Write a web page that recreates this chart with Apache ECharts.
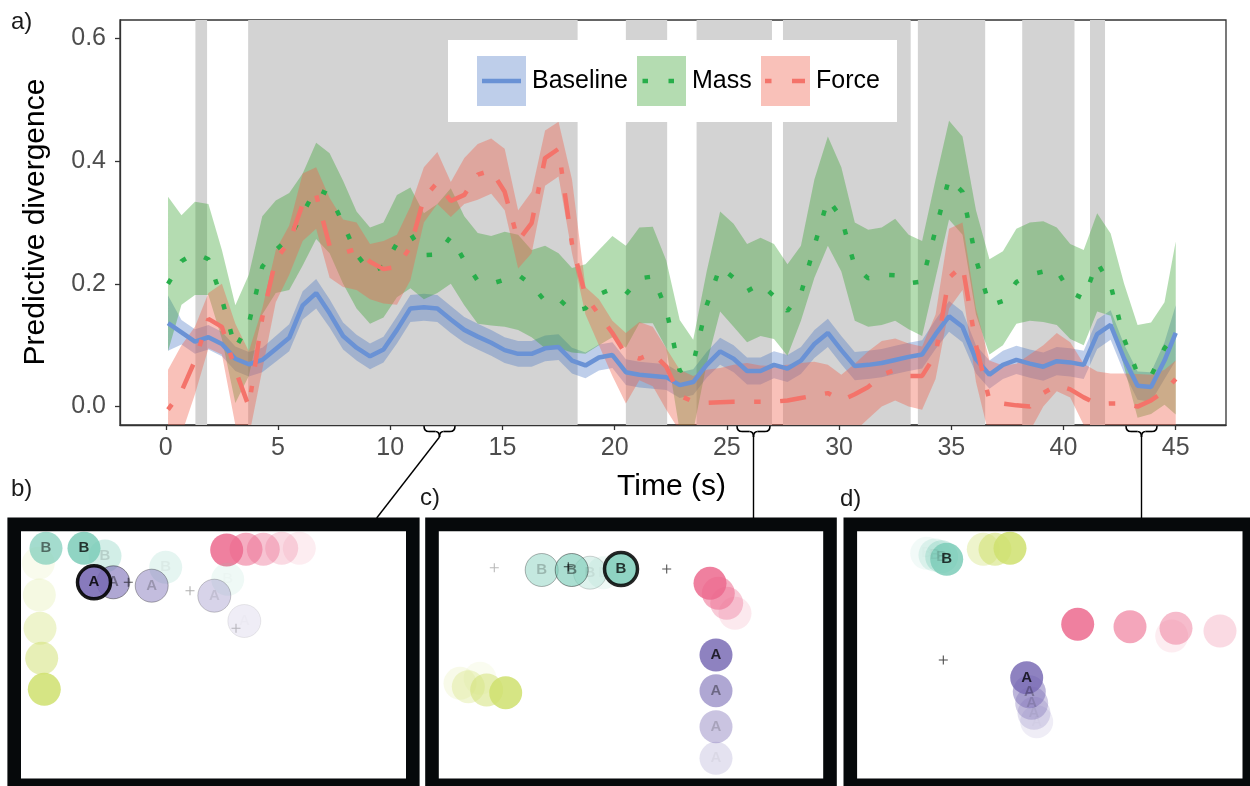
<!DOCTYPE html>
<html>
<head>
<meta charset="utf-8">
<script src="https://cdn.jsdelivr.net/npm/echarts@6/dist/echarts.min.js"></script>
<style>html,body{margin:0;padding:0;background:#fff}#chart{width:1250px;height:786px}</style>
</head>
<body>
<div id="chart"></div>
<script>
// time of each sample (s)
var TIME = [0.1,0.7,1.3,1.9,2.5,3.1,3.7,4.3,4.9,5.5,
	6.1,6.7,7.3,7.9,8.5,9.1,9.7,10.3,10.9,11.5,
	12.1,12.7,13.3,13.9,14.5,15.1,15.7,16.3,16.9,17.5,
	18.1,18.7,19.3,19.9,20.5,21.1,21.7,22.3,22.9,23.5,
	24.1,24.7,25.3,25.9,26.5,27.1,27.7,28.3,28.9,29.5,
	30.1,30.7,31.3,31.9,32.5,33.1,33.7,34.3,34.9,35.5,
	36.1,36.7,37.3,37.9,38.5,39.1,39.7,40.3,40.9,41.5,
	42.1,42.7,43.3,43.9,44.5,45.0];

//Baseline
var BASE = [0.136,0.121,0.106,0.113,0.102,0.078,0.069,0.076,0.094,0.112,
	0.165,0.185,0.152,0.115,0.096,0.082,0.093,0.125,0.160,0.162,
	0.160,0.142,0.125,0.114,0.104,0.092,0.086,0.086,0.095,0.097,
	0.075,0.067,0.080,0.084,0.056,0.052,0.050,0.048,0.035,0.040,
	0.068,0.090,0.078,0.058,0.058,0.068,0.062,0.075,0.102,0.120,
	0.092,0.066,0.068,0.071,0.076,0.081,0.085,0.118,0.147,0.130,
	0.077,0.052,0.068,0.076,0.070,0.065,0.074,0.072,0.068,0.118,
	0.133,0.078,0.034,0.032,0.075,0.120];
var BASE_HI = [0.181,0.141,0.126,0.133,0.122,0.098,0.089,0.096,0.115,0.134,
	0.188,0.208,0.175,0.137,0.117,0.103,0.114,0.147,0.182,0.184,
	0.182,0.164,0.146,0.135,0.125,0.113,0.107,0.107,0.116,0.118,
	0.096,0.088,0.101,0.105,0.077,0.073,0.071,0.069,0.056,0.061,
	0.089,0.112,0.100,0.080,0.080,0.090,0.084,0.097,0.125,0.143,
	0.115,0.089,0.091,0.094,0.099,0.104,0.108,0.142,0.172,0.155,
	0.100,0.075,0.091,0.099,0.093,0.088,0.097,0.095,0.091,0.142,
	0.157,0.101,0.057,0.056,0.105,0.165];
var BASE_LO = [0.091,0.101,0.086,0.093,0.082,0.058,0.049,0.056,0.073,0.090,
	0.142,0.160,0.129,0.093,0.075,0.061,0.072,0.103,0.138,0.140,
	0.138,0.120,0.104,0.093,0.083,0.071,0.065,0.065,0.074,0.076,
	0.054,0.046,0.059,0.063,0.035,0.031,0.029,0.027,0.014,0.019,
	0.047,0.068,0.056,0.036,0.036,0.046,0.040,0.053,0.079,0.097,
	0.069,0.043,0.045,0.048,0.053,0.058,0.062,0.094,0.122,0.105,
	0.054,0.029,0.045,0.053,0.047,0.042,0.051,0.049,0.045,0.094,
	0.109,0.055,0.011,0.008,0.045,0.075];

//Mass
var MASS = [0.200,0.237,0.250,0.240,0.175,0.095,0.135,0.228,0.255,0.275,
	0.315,0.355,0.345,0.298,0.248,0.220,0.228,0.266,0.282,0.247,
	0.248,0.277,0.238,0.205,0.200,0.207,0.215,0.198,0.172,0.176,
	0.155,0.160,0.183,0.192,0.183,0.209,0.212,0.158,0.058,0.070,
	0.165,0.228,0.210,0.188,0.200,0.180,0.156,0.184,0.262,0.338,
	0.308,0.228,0.209,0.215,0.214,0.201,0.204,0.288,0.372,0.350,
	0.240,0.165,0.172,0.203,0.215,0.220,0.222,0.186,0.176,0.235,
	0.198,0.110,0.054,0.050,0.095,0.120];
var MASS_HI = [0.342,0.312,0.334,0.330,0.255,0.165,0.215,0.310,0.336,0.348,
	0.380,0.430,0.413,0.368,0.318,0.292,0.300,0.345,0.357,0.315,
	0.330,0.356,0.310,0.283,0.278,0.285,0.280,0.255,0.262,0.250,
	0.226,0.232,0.255,0.278,0.262,0.292,0.293,0.238,0.141,0.109,
	0.220,0.318,0.298,0.265,0.275,0.265,0.232,0.262,0.370,0.440,
	0.390,0.300,0.288,0.292,0.306,0.280,0.270,0.370,0.466,0.440,
	0.320,0.240,0.253,0.290,0.300,0.302,0.292,0.265,0.255,0.315,
	0.282,0.200,0.133,0.137,0.170,0.269];
var MASS_LO = [0.090,0.166,0.182,0.182,0.110,0.006,0.050,0.150,0.185,0.190,
	0.230,0.273,0.250,0.200,0.160,0.135,0.145,0.178,0.193,0.175,
	0.185,0.200,0.165,0.135,0.132,0.130,0.125,0.113,0.095,0.095,
	0.088,0.086,0.100,0.113,0.096,0.136,0.136,0.095,-0.040,-0.040,
	0.070,0.155,0.130,0.105,0.115,0.110,0.083,0.140,0.210,0.262,
	0.220,0.140,0.130,0.133,0.140,0.126,0.115,0.210,0.305,0.280,
	0.150,0.085,0.100,0.135,0.140,0.138,0.133,0.110,0.100,0.155,
	0.148,0.065,-0.018,-0.012,0.003,-0.013];

//Force
var FORCE = [-0.005,0.025,0.075,0.143,0.130,0.060,0.000,0.145,0.240,0.268,
	0.330,0.345,0.262,0.250,0.257,0.236,0.224,0.228,0.260,0.340,
	0.365,0.335,0.345,0.378,0.385,0.350,0.270,0.299,0.405,0.420,
	0.265,0.180,0.150,0.120,0.085,0.078,0.087,0.065,0.018,0.008,
	0.006,0.007,0.008,0.008,0.008,0.008,0.010,0.014,0.018,0.022,
	0.010,0.020,0.032,0.052,0.060,0.050,0.050,0.085,0.210,0.230,
	0.100,0.010,0.005,0.002,0.000,0.022,0.035,0.028,0.015,0.004,
	0.005,0.005,0.000,0.010,0.025,0.045];
var FORCE_HI = [0.060,0.100,0.130,0.185,0.200,0.135,0.090,0.160,0.255,0.295,
	0.380,0.390,0.340,0.305,0.300,0.265,0.270,0.280,0.326,0.390,
	0.415,0.366,0.405,0.428,0.437,0.420,0.320,0.350,0.450,0.464,
	0.370,0.195,0.175,0.140,0.120,0.138,0.130,0.095,0.060,0.050,
	0.060,0.063,0.068,0.071,0.067,0.066,0.068,0.071,0.073,0.068,
	0.052,0.070,0.090,0.107,0.111,0.103,0.098,0.150,0.290,0.300,
	0.160,0.075,0.067,0.070,0.085,0.100,0.120,0.105,0.070,0.057,
	0.054,0.054,0.053,0.052,0.060,0.075];
var FORCE_LO = [-0.060,-0.045,0.020,0.095,0.085,-0.030,-0.050,0.060,0.170,0.215,
	0.270,0.290,0.210,0.195,0.190,0.175,0.168,0.166,0.206,0.300,
	0.330,0.309,0.330,0.337,0.347,0.320,0.225,0.250,0.360,0.375,
	0.250,0.150,0.100,0.050,0.005,0.043,0.033,-0.005,-0.040,-0.050,
	-0.050,-0.050,-0.050,-0.050,-0.050,-0.050,-0.050,-0.050,-0.040,-0.040,
	-0.050,-0.040,-0.020,0.000,0.010,0.000,-0.005,0.045,0.160,0.190,
	0.040,-0.050,-0.050,-0.050,-0.040,0.000,0.025,0.015,-0.030,-0.050,
	-0.050,-0.050,-0.050,-0.050,-0.040,-0.030];

// shaded time windows (s)
var BANDS = [[1.32,1.84],[3.67,18.35],[20.50,22.34],[23.65,27.01],[27.50,33.19],[33.51,36.51],[38.16,40.49],[41.18,41.85]];

var X_TICKS = [0,5,10,15,20,25,30,35,40,45];
var Y_TICKS = [0,0.2,0.4,0.6];

// snapshot panels: [x, y, opacity, kind, ring]   (ring: 0 none, 1 thin, 2 selected)
var PANEL_B = [
	[17.3,32.3,0.12,'lime',0],[18.3,64,0.2,'lime',0],[19,97.3,0.35,'lime',0],[20.7,127.3,0.5,'lime',0],[23.3,158.3,0.85,'lime',0],
	[278.3,17.3,0.12,'pink',0],[260.7,17.3,0.25,'pink',0],[242.3,18.3,0.4,'pink',0],[225,18.3,0.55,'pink',0],[205.7,19,0.85,'pink',0],
	[206.7,48.3,0.12,'teal',0],[144.7,36.3,0.2,'teal',0],[84,25,0.35,'teal',0],[25,17.3,0.7,'teal',0],[63,17.3,0.85,'teal',0],
	[223.3,90,0.12,'purple',1],[193.3,64.7,0.3,'purple',1],[130.7,54.7,0.45,'purple',1],[92.3,51.3,0.6,'purple',1],[73,51.3,0.9,'purple',2]
];
var PLUS_B = [[107.3,51.3,0.8],[169,59.7,0.4],[215,97.3,0.3]];

var PANEL_C = [
	[41,147.3,0.1,'lime',0],[21,152.3,0.15,'lime',0],[29.3,155.7,0.3,'lime',0],[47.7,159,0.5,'lime',0],[66.7,161.7,0.85,'lime',0],
	[296,82.3,0.15,'pink',0],[287.7,72.3,0.35,'pink',0],[279.3,62.3,0.55,'pink',0],[271,52.3,0.85,'pink',0],
	[164.3,41.7,0.12,'teal',0],[151,41.7,0.25,'teal',1],[102.7,39,0.45,'teal',1],[132.7,39,0.65,'teal',1],[182,38,0.85,'teal',2],
	[277,227.3,0.2,'purple',0],[277,195.7,0.4,'purple',0],[277,159.7,0.6,'purple',0],[277,124,0.85,'purple',0]
];
var PLUS_C = [[55.3,36.7,0.35],[129.3,35.7,0.9],[227.7,38,0.85]];

var PANEL_D = [
	[126,18.3,0.35,'lime',0],[137.7,18.3,0.55,'lime',0],[152.7,17.3,0.85,'lime',0],
	[314.4,105,0.12,'pink',0],[362.7,100,0.25,'pink',0],[318.7,97.3,0.45,'pink',0],[272.7,95.7,0.6,'pink',0],[220.4,93.3,0.85,'pink',0],
	[69.4,22.3,0.1,'teal',0],[77.7,24,0.2,'teal',0],[84.4,25.7,0.35,'teal',0],[89.4,28.3,0.85,'teal',0],
	[179.4,190.7,0.12,'purple',0],[176.7,182.3,0.22,'purple',0],[174.4,172.3,0.35,'purple',0],[172,160.7,0.5,'purple',0],[169.4,146.7,0.85,'purple',0]
];
var PLUS_D = [[86,129,0.9]];

var FONT = '"Liberation Sans", Arial, Helvetica, sans-serif';
var X_MIN = -2.04, X_MAX = 47.24, Y_MIN = -0.03, Y_MAX = 0.63;

var KIND_COLOR = { lime:'#cfe06e', teal:'#7dcdb9', purple:'#7a6cb5', pink:'#ec6a8e' };
var KIND_LABEL = { teal:'B', purple:'A' };

var BLUE = '#6a92d5', GREEN = '#27ae4a', RED = '#f4736a';
var BLUE_FILL = 'rgba(68,114,196,0.35)', GREEN_FILL = 'rgba(51,160,44,0.37)', RED_FILL = 'rgba(240,100,80,0.4)';

function pairs( vals )
{
	return TIME.map( function( t, i ){ return [ t, vals[i] ]; } );
}

//ribbon polygon from lo/hi arrays
function ribbon( name, lo, hi, fill )
{
	return {
		name: name,
		type: 'custom',
		xAxisIndex: 0, yAxisIndex: 0,
		clip: true,
		z: 2,
		silent: true,
		data: [0],
		renderItem: function( params, api ){
			var pts = [];
			for( var i = 0; i < TIME.length; i++ ) pts.push( api.coord( [ TIME[i], hi[i] ] ) );
			for( var j = TIME.length - 1; j >= 0; j-- ) pts.push( api.coord( [ TIME[j], lo[j] ] ) );
			return { type: 'polygon', shape: { points: pts }, style: { fill: fill } };
		}
	};
}

function circles( list )
{
	return list.map( function( c ){
		var ring = c[4], lab = KIND_LABEL[ c[3] ];
		var a = Math.min( 1, c[2] * 1.05 );
		return {
			value: [ c[0], c[1] ],
			itemStyle: {
				color: KIND_COLOR[ c[3] ],
				opacity: c[2],
				borderColor: ring == 2 ? '#000' : 'rgba(20,20,20,0.7)',
				borderWidth: ring == 2 ? 3.5 : ( ring == 1 ? 1 : 0 )
			},
			label: {
				show: !!lab,
				formatter: lab || '',
				position: 'inside',
				color: 'rgba(0,0,0,' + a + ')',
				fontFamily: FONT,
				fontWeight: 'bold',
				fontSize: 15
			}
		};
	});
}

function plusMarks( list )
{
	return list.map( function( p ){
		return { value: [ p[0], p[1] ], itemStyle: { color: 'rgba(0,0,0,' + p[2] + ')' } };
	});
}

var PLUS_PATH = 'path://M4.4,0h1.2v4.4h4.4v1.2h-4.4v4.4h-1.2v-4.4h-4.4v-1.2h4.4z';

//curly brace under the time axis, built from curves and lines
function brace( x0, x1 )
{
	var xm = ( x0 + x1 ) / 2, y0 = 426, y1 = 431.5, y2 = 437;
	var st = { fill: 'none', stroke: '#000', lineWidth: 1.6 };
	return {
		type: 'group',
		z: 120,
		children: [
			{ type: 'bezierCurve', shape: { x1: x0, y1: y0, x2: x0 + 5, y2: y1, cpx1: x0, cpy1: y1 }, style: st },
			{ type: 'line', shape: { x1: x0 + 5, y1: y1, x2: xm - 4, y2: y1 }, style: st },
			{ type: 'bezierCurve', shape: { x1: xm - 4, y1: y1, x2: xm, y2: y2, cpx1: xm, cpy1: y1 }, style: st },
			{ type: 'bezierCurve', shape: { x1: xm, y1: y2, x2: xm + 4, y2: y1, cpx1: xm, cpy1: y1 }, style: st },
			{ type: 'line', shape: { x1: xm + 4, y1: y1, x2: x1 - 5, y2: y1 }, style: st },
			{ type: 'bezierCurve', shape: { x1: x1 - 5, y1: y1, x2: x1, y2: y0, cpx1: x1, cpy1: y1 }, style: st }
		]
	};
}

function seg( x1, y1, x2, y2, color, w, dash )
{
	return { type: 'line', z: 120, shape: { x1: x1, y1: y1, x2: x2, y2: y2 },
		style: { stroke: color, lineWidth: w, lineDash: dash || null, lineCap: 'butt' } };
}

function txt( x, y, s, size, color, align, rot )
{
	return { type: 'text', z: 120, x: x, y: y, rotation: rot || 0,
		style: { text: s, fill: color, font: size + 'px ' + FONT, align: align || 'left', verticalAlign: 'middle' } };
}

function frame( x, w )
{
	return { type: 'rect', z: 50, shape: { x: x, y: 524.4, width: w, height: 261 },
		style: { fill: 'none', stroke: '#06090b', lineWidth: 13.6 } };
}

var graphics = [
	// legend
	{ type: 'rect', z: 100, shape: { x: 448, y: 40, width: 449, height: 82 }, style: { fill: '#fff' } },
	{ type: 'rect', z: 101, shape: { x: 477, y: 56, width: 49, height: 50 }, style: { fill: BLUE_FILL } },
	{ type: 'rect', z: 101, shape: { x: 637, y: 56, width: 49, height: 50 }, style: { fill: GREEN_FILL } },
	{ type: 'rect', z: 101, shape: { x: 761, y: 56, width: 49, height: 50 }, style: { fill: RED_FILL } },
	seg( 482, 81, 521, 81, BLUE, 4.5 ),
	seg( 642.5, 81, 681, 81, GREEN, 4.5, [ 5.5, 20.5 ] ),
	seg( 765, 81, 805, 81, RED, 4.5, [ 6.5, 20.5, 26, 19.5 ] ),
	txt( 532, 81, 'Baseline', 25, '#000' ),
	txt( 692, 81, 'Mass', 25, '#000' ),
	txt( 816, 81, 'Force', 25, '#000' ),
	// axis titles and panel letters
	txt( 36, 222, 'Predictive divergence', 30, '#000', 'center', Math.PI / 2 ),
	txt( 671.5, 487, 'Time (s)', 30, '#000', 'center' ),
	txt( 11, 22, 'a)', 24, '#1a1a1a' ),
	txt( 11, 489, 'b)', 24, '#1a1a1a' ),
	txt( 420, 498, 'c)', 24, '#1a1a1a' ),
	txt( 840, 499, 'd)', 24, '#1a1a1a' ),
	// braces and connectors
	brace( 424, 455 ),
	brace( 737, 770 ),
	brace( 1126, 1157 ),
	seg( 439.5, 437, 376.7, 518, '#000', 1.4 ),
	seg( 753.5, 437, 753.5, 518, '#000', 1.4 ),
	seg( 1141.5, 437, 1141.5, 518, '#000', 1.4 ),
	// snapshot frames
	frame( 14.2, 398.6 ),
	frame( 432, 398 ),
	frame( 850.3, 399 )
];

var panelAxis = function( i ){ return { gridIndex: i, type: 'value', min: 0, max: 385, show: false }; };
var panelYAxis = function( i ){ return { gridIndex: i, type: 'value', min: 0, max: 247.3, inverse: true, show: false }; };

var chart = echarts.init( document.getElementById( 'chart' ) );
chart.setOption({
	animation: false,
	backgroundColor: '#fff',
	grid: [
		{ left: 120, top: 20, width: 1106, height: 405, show: true, borderColor: '#333', borderWidth: 1.3, backgroundColor: '#fff' },
		{ left: 21, top: 531, width: 385, height: 247.3 },
		{ left: 439, top: 531, width: 385, height: 247.3 },
		{ left: 857.3, top: 531, width: 385, height: 247.3 }
	],
	xAxis: [
		{
			gridIndex: 0, type: 'value', min: X_MIN, max: X_MAX,
			axisLine: { show: true, onZero: false, lineStyle: { color: '#333', width: 1.3 } },
			axisTick: { show: true, customValues: X_TICKS, length: 5, lineStyle: { color: '#333', width: 1.3 } },
			axisLabel: { customValues: X_TICKS, fontSize: 25, color: '#4d4d4d', margin: 11, fontFamily: FONT },
			splitLine: { show: false }
		},
		panelAxis( 1 ), panelAxis( 2 ), panelAxis( 3 )
	],
	yAxis: [
		{
			gridIndex: 0, type: 'value', min: Y_MIN, max: Y_MAX,
			axisLine: { show: true, onZero: false, lineStyle: { color: '#333', width: 1.3 } },
			axisTick: { show: true, customValues: Y_TICKS, length: 5, lineStyle: { color: '#333', width: 1.3 } },
			axisLabel: { customValues: Y_TICKS, fontSize: 25, color: '#4d4d4d', margin: 14, fontFamily: FONT,
				formatter: function( v ){ return v.toFixed( 1 ); } },
			splitLine: { show: false }
		},
		panelYAxis( 1 ), panelYAxis( 2 ), panelYAxis( 3 )
	],
	series: [
		{
			name: 'windows',
			type: 'custom',
			xAxisIndex: 0, yAxisIndex: 0,
			clip: true,
			z: 1,
			silent: true,
			data: BANDS,
			renderItem: function( params, api ){
				var p0 = api.coord( [ api.value( 0 ), Y_MAX ] );
				var p1 = api.coord( [ api.value( 1 ), Y_MIN ] );
				return { type: 'rect', shape: { x: p0[0], y: p0[1], width: p1[0] - p0[0], height: p1[1] - p0[1] },
					style: { fill: '#d3d3d3' } };
			}
		},
		ribbon( 'Baseline band', BASE_LO, BASE_HI, BLUE_FILL ),
		ribbon( 'Mass band', MASS_LO, MASS_HI, GREEN_FILL ),
		ribbon( 'Force band', FORCE_LO, FORCE_HI, RED_FILL ),
		{
			name: 'Baseline', type: 'line', z: 3, data: pairs( BASE ), symbol: 'none',
			lineStyle: { color: BLUE, width: 4.5 }
		},
		{
			name: 'Mass', type: 'line', z: 3, data: pairs( MASS ), symbol: 'none',
			lineStyle: { color: GREEN, width: 4.5, type: [ 5.5, 20.5 ], cap: 'butt' }
		},
		{
			name: 'Force', type: 'line', z: 3, data: pairs( FORCE ), symbol: 'none',
			lineStyle: { color: RED, width: 4.5, type: [ 6.5, 19.5, 26, 19.5 ], cap: 'butt' }
		},
		{ type: 'scatter', xAxisIndex: 1, yAxisIndex: 1, symbolSize: 33, data: circles( PANEL_B ), silent: true },
		{ type: 'scatter', xAxisIndex: 2, yAxisIndex: 2, symbolSize: 33, data: circles( PANEL_C ), silent: true },
		{ type: 'scatter', xAxisIndex: 3, yAxisIndex: 3, symbolSize: 33, data: circles( PANEL_D ), silent: true },
		{ type: 'scatter', xAxisIndex: 1, yAxisIndex: 1, symbol: PLUS_PATH, symbolSize: 9, data: plusMarks( PLUS_B ), silent: true, z: 4 },
		{ type: 'scatter', xAxisIndex: 2, yAxisIndex: 2, symbol: PLUS_PATH, symbolSize: 9, data: plusMarks( PLUS_C ), silent: true, z: 4 },
		{ type: 'scatter', xAxisIndex: 3, yAxisIndex: 3, symbol: PLUS_PATH, symbolSize: 9, data: plusMarks( PLUS_D ), silent: true, z: 4 }
	],
	graphic: graphics
});
</script>
</body>
</html>
